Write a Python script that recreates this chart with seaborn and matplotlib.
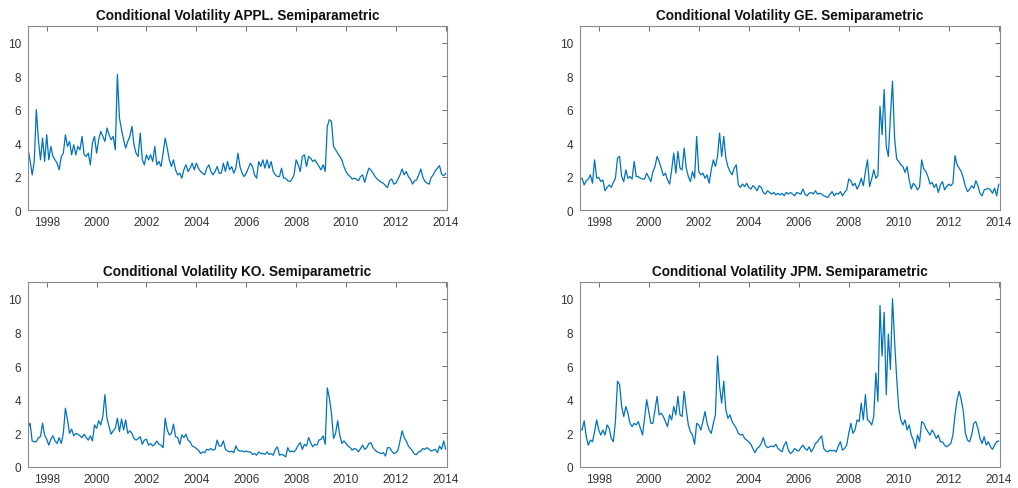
import numpy as np
import pandas as pd
import matplotlib
matplotlib.use("Agg")
import matplotlib.pyplot as plt
import seaborn as sns

# ---------------- data (monthly readings, Apr 1997 .. Jan 2014) ----------------
months = pd.date_range("1997-04-01", "2014-01-01", freq="MS")
t = months.year + (months.month - 1) / 12.0

appl = [
    3.65, 2.95, 2.1, 2.9, 6.0, 4.2, 3.0, 4.3, 2.9,
    4.5, 3.0, 3.8, 3.2, 3.0, 2.8, 2.4, 3.2, 3.4, 4.5, 3.8, 4.1,
    3.3, 3.9, 3.3, 3.8, 3.6, 4.4, 3.3, 3.2, 3.4, 2.7, 4.0, 4.4,
    3.4, 4.2, 4.7, 4.4, 4.1, 4.9, 4.5, 4.2, 4.4, 3.6, 8.1, 5.5,
    4.8, 4.2, 3.7, 4.1, 4.4, 5.0, 3.9, 3.4, 3.2, 4.6, 3.0, 2.7,
    3.3, 3.0, 3.3, 2.9, 3.8, 2.7, 2.9, 2.6, 3.4, 4.3, 3.7, 3.0,
    2.6, 3.0, 2.4, 2.1, 2.2, 1.9, 2.4, 2.7, 2.3, 2.5, 2.8, 2.4,
    2.8, 2.5, 2.3, 2.2, 2.1, 2.5, 2.7, 2.3, 2.1, 2.3, 2.6, 2.2,
    2.2, 2.8, 2.3, 2.9, 2.4, 2.6, 2.2, 2.5, 3.4, 2.6, 2.2, 2.0,
    2.2, 2.5, 2.8, 2.6, 2.1, 1.9, 2.9, 2.6, 3.0, 2.5, 3.0, 2.5,
    2.9, 2.3, 2.1, 2.0, 2.0, 2.5, 1.9, 1.9, 1.75, 1.7, 1.85, 2.1,
    3.0, 2.7, 2.3, 3.2, 3.3, 2.6, 3.2, 3.1, 2.9, 3.0, 2.8, 2.6,
    2.4, 2.7, 2.3, 5.0, 5.4, 5.3, 3.8, 3.6, 3.4, 3.2, 3.0, 2.6,
    2.3, 2.1, 2.0, 1.85, 1.9, 1.85, 1.75, 2.0, 2.1, 1.65, 2.1, 2.5,
    2.4, 2.2, 2.0, 1.85, 1.75, 1.65, 1.6, 1.45, 1.35, 1.75, 1.85, 1.55,
    1.6, 1.85, 2.1, 2.45, 2.1, 2.3, 2.0, 1.85, 1.55, 1.75, 1.8, 2.1,
    2.45, 1.95, 1.7, 1.6, 1.55, 1.95, 2.1, 2.35, 2.5, 2.65, 2.15, 2.05,
    2.2,
]

ge = [
    1.85, 1.9, 1.5, 1.75, 1.85, 2.1, 1.6, 3.0, 1.9,
    1.95, 1.7, 1.8, 1.15, 1.35, 1.5, 1.35, 1.65, 1.9, 3.1, 3.2, 2.0,
    1.7, 2.4, 1.9, 2.0, 1.85, 2.9, 2.0, 2.0, 1.9, 1.85, 1.85, 2.2,
    1.95, 1.7, 2.3, 2.6, 3.2, 2.9, 2.5, 2.05, 2.2, 1.8, 1.55, 2.4,
    3.4, 2.2, 3.5, 2.5, 2.4, 3.7, 2.5, 2.0, 1.7, 2.3, 1.9, 4.4,
    2.3, 2.1, 2.2, 1.9, 2.1, 1.6, 2.4, 3.0, 2.6, 3.2, 4.6, 3.2,
    4.4, 3.1, 2.6, 2.3, 2.1, 2.5, 2.7, 1.5, 1.35, 1.55, 1.4, 1.6,
    1.35, 1.25, 1.45, 1.35, 1.15, 1.45, 1.35, 1.05, 0.95, 1.15, 1.05, 0.95,
    1.05, 0.9, 1.0, 0.9, 1.0, 0.85, 1.05, 0.95, 1.05, 0.95, 0.85, 1.05,
    1.0, 0.95, 1.25, 0.95, 0.85, 1.0, 1.05, 0.95, 1.15, 0.95, 1.0, 0.95,
    0.85, 0.8, 0.75, 0.95, 1.1, 0.85, 1.0, 0.95, 1.1, 0.85, 1.05, 1.2,
    1.85, 1.75, 1.45, 1.6, 1.25, 1.5, 1.9, 1.45, 2.3, 3.0, 1.4, 1.85,
    2.4, 1.9, 2.05, 6.2, 4.5, 7.2, 3.8, 3.2, 5.6, 7.7, 4.3, 3.05,
    2.9, 2.7, 2.6, 2.25, 2.6, 1.8, 1.25, 1.6, 1.45, 1.2, 1.4, 3.0,
    2.45, 2.3, 2.0, 1.55, 1.65, 1.35, 1.55, 1.05, 1.5, 1.7, 1.2, 1.4,
    1.55, 1.45, 1.6, 3.25, 2.7, 2.5, 2.3, 1.9, 1.4, 1.1, 1.25, 1.45,
    1.3, 1.75, 1.45, 1.0, 0.85, 1.2, 1.25, 1.3, 1.2, 1.0, 1.3, 0.85,
    1.55,
]

ko = [
    2.35, 2.6, 1.55, 1.5, 1.5, 1.75, 1.8, 2.6, 1.9,
    1.65, 1.3, 1.65, 1.85, 1.55, 1.4, 1.75, 1.4, 2.0, 3.5, 2.8, 2.0,
    2.25, 1.85, 2.0, 1.95, 1.85, 1.75, 1.95, 1.75, 1.6, 1.85, 1.55, 2.5,
    2.3, 2.75, 2.5, 3.0, 4.3, 2.9, 2.4, 1.95, 2.15, 2.3, 2.9, 2.1,
    2.85, 2.2, 2.8, 2.0, 2.15, 2.0, 1.7, 1.6, 1.7, 1.8, 1.35, 1.6,
    1.65, 1.3, 1.4, 1.25, 1.35, 1.55, 1.35, 1.3, 1.15, 2.9, 2.2, 1.9,
    2.0, 2.55, 1.8, 1.75, 1.35, 1.9, 1.75, 1.95, 1.6, 1.5, 1.25, 1.2,
    1.1, 1.0, 0.8, 0.9, 0.85, 1.05, 1.0, 1.1, 1.0, 1.05, 1.6, 1.25,
    1.25, 1.55, 1.05, 0.95, 0.9, 0.95, 0.85, 1.25, 1.0, 0.95, 0.95, 0.9,
    0.95, 0.9, 0.9, 0.75, 0.8, 0.7, 0.9, 0.8, 0.8, 0.75, 0.9, 0.75,
    0.8, 0.7, 1.05, 1.2, 0.7, 0.75, 0.7, 0.6, 1.15, 0.9, 0.95, 0.9,
    1.05, 1.3, 1.45, 1.05, 1.35, 1.25, 1.75, 1.45, 1.2, 1.35, 1.3, 1.6,
    1.65, 1.85, 1.35, 4.7, 4.1, 3.2, 1.7, 2.0, 2.75, 1.9, 1.4, 1.55,
    1.4, 1.25, 1.15, 1.0, 1.1, 1.05, 0.9, 1.1, 1.3, 1.05, 1.15, 1.4,
    1.45, 1.15, 1.0, 0.9, 0.85, 0.8, 0.85, 0.65, 1.15, 1.15, 0.95, 0.8,
    0.85, 1.0, 1.55, 2.15, 1.75, 1.55, 1.25, 1.1, 0.95, 0.75, 0.75, 0.9,
    0.95, 1.1, 1.05, 1.15, 1.05, 0.95, 1.0, 1.05, 0.85, 1.25, 1.05, 1.55,
    1.05,
]

jpm = [
    2.3, 2.2, 2.75, 1.8, 1.3, 1.6, 1.5, 2.1, 2.8,
    2.2, 1.9, 2.2, 1.9, 2.5, 2.3, 1.7, 1.5, 2.7, 5.1, 4.9, 3.6,
    3.0, 3.6, 3.2, 2.6, 2.4, 2.6, 2.5, 2.7, 2.3, 1.9, 2.9, 4.0,
    3.3, 2.6, 2.6, 3.4, 4.2, 3.1, 3.2, 3.0, 2.7, 2.4, 3.1, 2.8,
    3.6, 3.1, 4.2, 3.1, 3.0, 4.5, 3.4, 2.5, 2.1, 1.9, 1.35, 2.6,
    2.5, 2.2, 2.7, 3.3, 2.6, 2.2, 2.0, 2.6, 3.1, 6.6, 4.8, 3.8,
    5.1, 3.4, 2.9, 3.1, 2.7, 2.5, 2.3, 2.0, 1.9, 1.95, 1.7, 1.6,
    1.5, 1.35, 1.1, 0.85, 1.1, 1.2, 1.4, 1.75, 1.3, 1.15, 1.2, 1.25,
    1.2, 1.35, 1.1, 1.0, 0.9, 1.3, 1.5, 1.0, 0.8, 0.9, 1.1, 1.0,
    0.95, 1.15, 1.3, 1.1, 1.0, 1.2, 0.9, 1.1, 1.4, 1.5, 1.7, 1.85,
    1.1, 0.95, 0.9, 1.0, 0.95, 1.0, 0.9, 1.25, 1.5, 1.0, 1.1, 1.3,
    2.0, 2.6, 2.0, 2.2, 2.8, 2.7, 3.8, 2.8, 4.3, 2.8, 2.7, 2.5,
    3.0, 5.6, 3.9, 9.6, 6.6, 9.2, 4.3, 7.9, 5.8, 10.0, 7.5, 5.3,
    3.5, 2.8, 2.5, 2.8, 2.2, 2.5, 1.9, 1.6, 1.1, 1.9, 1.5, 2.7,
    2.6, 2.3, 2.1, 1.9, 2.2, 2.0, 1.7, 1.9, 1.5, 1.5, 1.3, 1.2,
    1.3, 1.4, 1.9, 3.1, 4.0, 4.5, 4.0, 3.3, 2.0, 1.6, 1.5, 1.9,
    2.6, 2.7, 2.3, 1.7, 1.4, 1.8, 1.3, 1.5, 1.2, 1.05, 1.3, 1.5,
    1.55,
]

tickers = ["APPL", "GE", "KO", "JPM"]
values = [appl, ge, ko, jpm]
xticks = [1998, 2000, 2002, 2004, 2006, 2008, 2010, 2012, 2014]
yticks = [0, 2, 4, 6, 8, 10]

# ---------------- style ----------------
sns.set_style("white")
plt.rcParams["font.family"] = ["Liberation Sans", "DejaVu Sans"]

W, H = 1018, 489
fig = plt.figure(figsize=(W / 100, H / 100), dpi=100)
fig.patch.set_facecolor("white")

# axes boxes in pixels: (left, top, right, bottom)
boxes = [(28, 27, 447, 211), (580, 27, 1000, 211),
         (28, 283, 447, 468), (580, 283, 1000, 468)]

for name, vals, (x0, y0, x1, y1) in zip(tickers, values, boxes):
    ax = fig.add_axes([x0 / W, 1 - y1 / H, (x1 - x0) / W, (y1 - y0) / H])
    df = pd.DataFrame({"t": np.asarray(t, dtype=float), "v": vals})
    sns.lineplot(data=df, x="t", y="v", ax=ax, color="#0072BD", linewidth=0.9)
    ax.set_xlim(1997.25, 2014.05)
    ax.set_ylim(0, 11)
    ax.set_xticks(xticks)
    ax.set_xticklabels([str(x) for x in xticks])
    ax.set_yticks(yticks)
    ax.set_yticklabels([str(y) for y in yticks])
    ax.set_xlabel("")
    ax.set_ylabel("")
    ax.tick_params(direction="in", top=True, right=True, length=3.5, width=0.6,
                   color="#555555", labelcolor="#333333", labelsize=8.5, pad=4)
    ax.tick_params(axis="y", pad=5)
    for sp in ax.spines.values():
        sp.set_color("#8a8a8a")
        sp.set_linewidth(0.8)
    ax.set_title(f"Conditional Volatility {name}. Semiparametric",
                 fontsize=9.8, fontweight="bold", color="#111111", pad=5)

fig.savefig("out.png", dpi=100, facecolor="white")
